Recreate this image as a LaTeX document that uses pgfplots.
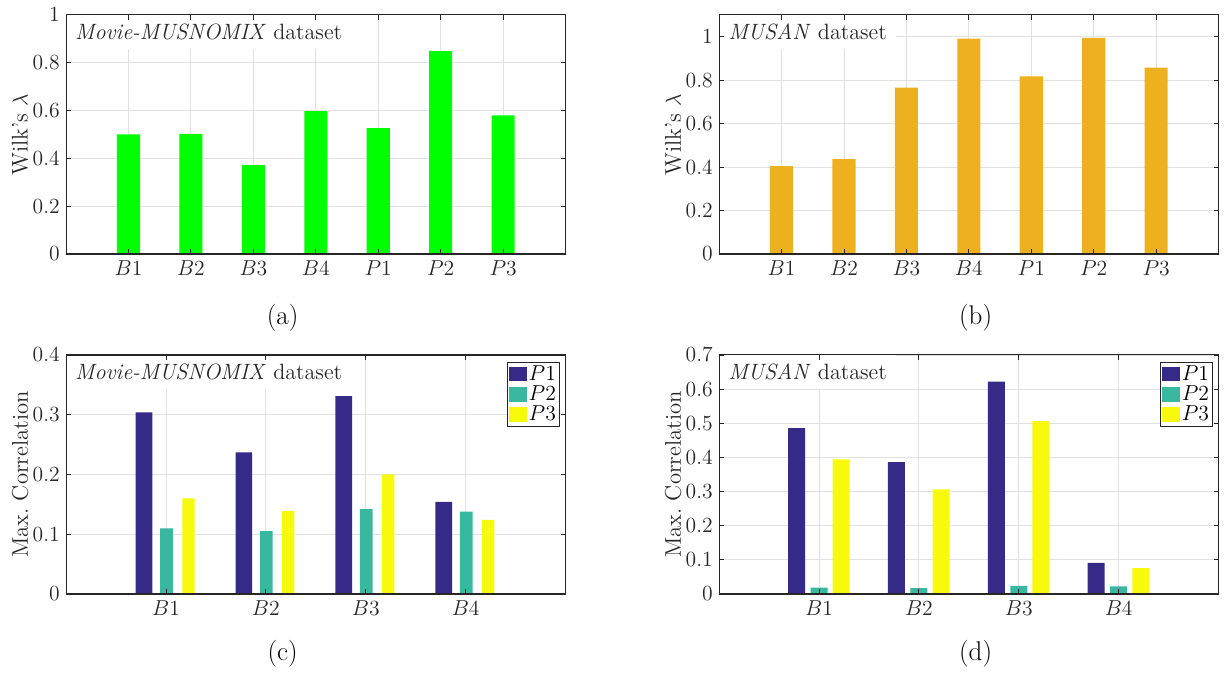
\documentclass[border=0pt]{standalone}
\usepackage{pgfplots}
\pgfplotsset{compat=1.18}

\definecolor{axgray}{HTML}{262626}
\definecolor{gridgray}{HTML}{E1E1E1}
\definecolor{wgreen}{HTML}{00FF00}
\definecolor{worange}{HTML}{EDB120}
\definecolor{pP1}{HTML}{352A87}
\definecolor{pP2}{HTML}{38B89E}
\definecolor{pP3}{HTML}{F8FA0D}

\tikzset{
  boxnote/.style={fill=white, anchor=north west, inner xsep=4.4pt, inner ysep=0pt,
    minimum height=18.6pt, font=\fontsize{12.3}{14}\selectfont, text=axgray},
}

% layer order: grid, then the white label box, then bars, then ticks and axis lines
\pgfplotsset{
  layers/boxfirst/.define layer set={
    axis background,axis grid,pre main,main,axis ticks,axis lines,axis tick labels,axis descriptions,axis foreground
  }{
    grid style={/pgfplots/on layer=axis grid},
    tick style={/pgfplots/on layer=axis ticks},
    axis line style={/pgfplots/on layer=axis lines},
    label style={/pgfplots/on layer=axis descriptions},
    legend style={/pgfplots/on layer=axis descriptions},
    title style={/pgfplots/on layer=axis descriptions},
    colorbar style={/pgfplots/on layer=axis descriptions},
    ticklabel style={/pgfplots/on layer=axis tick labels},
    axis background@ style={/pgfplots/on layer=axis background},
    3d box foreground style={/pgfplots/on layer=axis foreground},
  },
  panel/.style={
    set layers=boxfirst,
    scale only axis,
    width=277.5pt, height=132.8pt,
    ybar, ymin=0, xmin=0,
    axis line style={axgray, line width=0.6pt},
    tick style={axgray, line width=0.5pt},
    major tick length=2.8pt,
    tick align=inside,
    grid=major,
    grid style={gridgray, line width=0.5pt},
    ticklabel style={font=\fontsize{11.6}{13}\selectfont, text=axgray},
    ylabel style={at={(axis description cs:-0.092,0.5)}, anchor=center,
      font=\fontsize{12.6}{14}\selectfont, text=axgray},
    legend style={at={(rel axis cs:0.988,0.972)}, anchor=north east,
      draw=axgray, line width=0.5pt, fill=white,
      font=\fontsize{11.8}{13}\selectfont, inner sep=1pt,
      nodes={inner sep=0.8pt}, row sep=0pt},
    legend cell align=left,
  },
}

\begin{document}
\begin{tikzpicture}

% (a) Wilk's lambda, Movie-MUSNOMIX
\begin{axis}[panel, at={(36.7pt,232.8pt)}, anchor=south west,
  xmax=8, ymax=1, ytick={0,0.2,...,1},
  xtick={1,...,7}, xticklabels={$B1$,$B2$,$B3$,$B4$,$P1$,$P2$,$P3$},
  ylabel={Wilk's $\lambda$}, bar width=0.37]
\addplot[fill=wgreen, draw=none] coordinates {
  (1,0.500) (2,0.502) (3,0.372) (4,0.598) (5,0.526) (6,0.849) (7,0.580)};
\begin{pgfonlayer}{pre main}
\node[boxnote, minimum width=158pt] at (rel axis cs:0,1) {\textit{Movie-MUSNOMIX} dataset};
\end{pgfonlayer}
\end{axis}

% (b) Wilk's lambda, MUSAN
\begin{axis}[panel, at={(399.5pt,232.8pt)}, anchor=south west,
  xmax=8, ymax=1.1, ytick={0,0.2,...,1},
  xtick={1,...,7}, xticklabels={$B1$,$B2$,$B3$,$B4$,$P1$,$P2$,$P3$},
  ylabel={Wilk's $\lambda$}, bar width=0.37]
\addplot[fill=worange, draw=none] coordinates {
  (1,0.404) (2,0.436) (3,0.765) (4,0.991) (5,0.817) (6,0.994) (7,0.858)};
\begin{pgfonlayer}{pre main}
\node[boxnote, minimum width=98pt] at (rel axis cs:0,1) {\textit{MUSAN} dataset};
\end{pgfonlayer}
\end{axis}

% (c) maximum correlation, Movie-MUSNOMIX
\begin{axis}[panel, at={(36.7pt,43.9pt)}, anchor=south west,
  xmax=5, ymax=0.4, ytick={0,0.1,...,0.4},
  xtick={1,...,4}, xticklabels={$B1$,$B2$,$B3$,$B4$},
  ylabel={Max.\ Correlation}]
\addplot[fill=pP1, draw=none, bar width=0.167, bar shift=-0.22,
  legend image code/.code={\fill[pP1] (0pt,-4.1pt) rectangle (10pt,4.1pt);}]
  coordinates {(1,0.304) (2,0.237) (3,0.331) (4,0.154)};
\addplot[fill=pP2, draw=none, bar width=0.127, bar shift=0.005,
  legend image code/.code={\fill[pP2] (0pt,-4.1pt) rectangle (10pt,4.1pt);}]
  coordinates {(1,0.110) (2,0.105) (3,0.142) (4,0.138)};
\addplot[fill=pP3, draw=none, bar width=0.123, bar shift=0.225,
  legend image code/.code={\fill[pP3] (0pt,-4.1pt) rectangle (10pt,4.1pt);}]
  coordinates {(1,0.160) (2,0.139) (3,0.200) (4,0.124)};
\legend{$P1$,$P2$,$P3$}
\begin{pgfonlayer}{pre main}
\node[boxnote, minimum width=158pt] at (rel axis cs:0,1) {\textit{Movie-MUSNOMIX} dataset};
\end{pgfonlayer}
\end{axis}

% (d) maximum correlation, MUSAN
\begin{axis}[panel, at={(399.5pt,43.9pt)}, anchor=south west,
  xmax=5, ymax=0.7, ytick={0,0.1,...,0.7},
  xtick={1,...,4}, xticklabels={$B1$,$B2$,$B3$,$B4$},
  ylabel={Max.\ Correlation}]
\addplot[fill=pP1, draw=none, bar width=0.17, bar shift=-0.225,
  legend image code/.code={\fill[pP1] (0pt,-4.1pt) rectangle (10pt,4.1pt);}]
  coordinates {(1,0.486) (2,0.386) (3,0.622) (4,0.091)};
\addplot[fill=pP2, draw=none, bar width=0.17, bar shift=0,
  legend image code/.code={\fill[pP2] (0pt,-4.1pt) rectangle (10pt,4.1pt);}]
  coordinates {(1,0.019) (2,0.017) (3,0.024) (4,0.022)};
\addplot[fill=pP3, draw=none, bar width=0.17, bar shift=0.222,
  legend image code/.code={\fill[pP3] (0pt,-4.1pt) rectangle (10pt,4.1pt);}]
  coordinates {(1,0.394) (2,0.306) (3,0.506) (4,0.076)};
\legend{$P1$,$P2$,$P3$}
\begin{pgfonlayer}{pre main}
\node[boxnote, minimum width=98pt] at (rel axis cs:0,1) {\textit{MUSAN} dataset};
\end{pgfonlayer}
\end{axis}

% sub-figure captions
\node[font=\fontsize{15}{18}\selectfont] at (157pt,197.2pt) {(a)};
\node[font=\fontsize{15}{18}\selectfont] at (542pt,197.2pt) {(b)};
\node[font=\fontsize{15}{18}\selectfont] at (157pt,10.6pt) {(c)};
\node[font=\fontsize{15}{18}\selectfont] at (542pt,10.6pt) {(d)};

% page frame
\pgfresetboundingbox
\path[use as bounding box] (0,0) rectangle (680pt,373.9pt);
\end{tikzpicture}
\end{document}
